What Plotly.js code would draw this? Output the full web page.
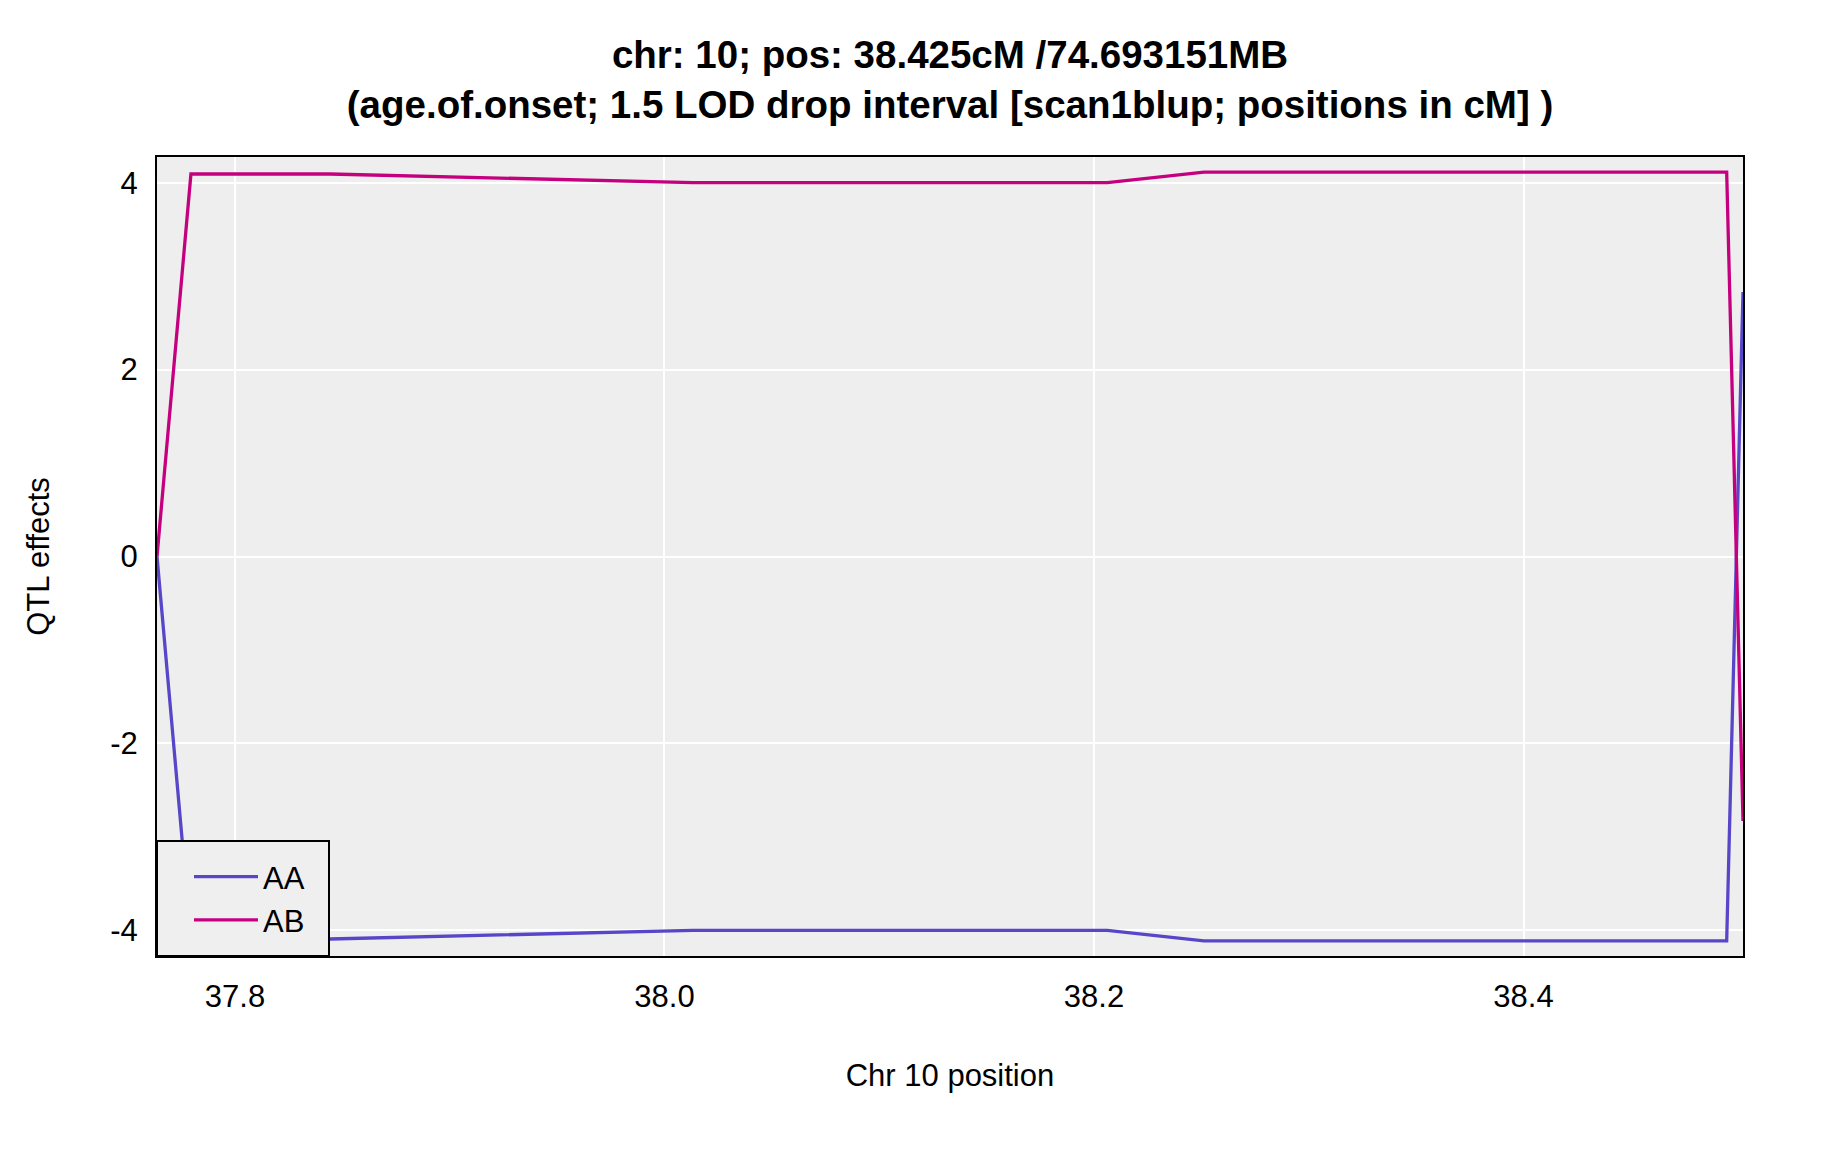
<!DOCTYPE html>
<html>
<head>
<meta charset="utf-8">
<script src="https://cdn.plot.ly/plotly-3.0.1.min.js"></script>
<style>html,body{margin:0;padding:0;background:#fff;}#chart{width:1824px;height:1152px;}</style>
</head>
<body>
<div id="chart"></div>
<script>
// Positions (cM) along chromosome 10
const positions = [37.7637, 37.7795, 37.8443, 38.0133, 38.2062, 38.2512, 38.4946, 38.5022];
// QTL effects
const effectAA = [0, -4.093, -4.093, -4.0, -4.0, -4.114, -4.114, 2.83];
const effectAB = [0, 4.093, 4.093, 4.0, 4.0, 4.114, 4.114, -2.83];
const seriesNames = ["AA", "AB"];
const xTicks = [37.8, 38.0, 38.2, 38.4];
const xTickLabels = ["37.8", "38.0", "38.2", "38.4"];
const yTicks = [-4, -2, 0, 2, 4];
const yTickLabels = ["-4", "-2", "0", "2", "4"];

const FONT = "Liberation Sans, Arial, Helvetica, sans-serif";

const traces = [
  {x: positions, y: effectAA, name: seriesNames[0], type: "scatter", mode: "lines",
   line: {color: "#5846c8", width: 3.3}, cliponaxis: true},
  {x: positions, y: effectAB, name: seriesNames[1], type: "scatter", mode: "lines",
   line: {color: "#c5007f", width: 3.3}, cliponaxis: true}
];

const layout = {
  width: 1824, height: 1152,
  margin: {l: 157, r: 81, t: 157, b: 196, pad: 0},
  paper_bgcolor: "#ffffff",
  plot_bgcolor: "#eeeeee",
  font: {family: FONT, size: 31, color: "#000"},
  title: {
    text: "chr: 10; pos: 38.425cM /74.693151MB<br>(age.of.onset; 1.5 LOD drop interval [scan1blup; positions in cM] )",
    font: {family: FONT, size: 38.5, color: "#000", weight: "bold"},
    x: 0.5, xanchor: "center", xref: "paper",
    y: 1 - 68/1152, yref: "container", yanchor: "middle"
  },
  xaxis: {
    range: [37.7637, 38.5022], autorange: false,
    tickvals: xTicks, ticktext: xTickLabels,
    ticks: "", showgrid: true, gridcolor: "#ffffff", gridwidth: 2,
    zeroline: false, showline: true, mirror: true, linecolor: "#000", linewidth: 2,
    tickfont: {size: 31, family: FONT}, ticklabelstandoff: 12,
    title: {text: "Chr 10 position", font: {size: 31, family: FONT}, standoff: 51}
  },
  yaxis: {
    range: [-4.275, 4.275], autorange: false,
    tickvals: yTicks, ticktext: yTickLabels,
    ticks: "", showgrid: true, gridcolor: "#ffffff", gridwidth: 2,
    zeroline: false, showline: true, mirror: true, linecolor: "#000", linewidth: 2,
    tickfont: {size: 31, family: FONT}, ticklabelstandoff: 11,
    title: {text: "QTL effects", font: {size: 31, family: FONT}, standoff: 51}
  },
  shapes: [
    {type: "rect", xref: "paper", yref: "paper", layer: "above",
     x0: 0, x1: 172/1586, y0: 0, y1: 115/799,
     fillcolor: "#efefef", line: {color: "#000", width: 2}}
  ],
  showlegend: true,
  legend: {
    x: 32/1586, y: 57.5/799, xanchor: "left", yanchor: "middle", xref: "paper", yref: "paper",
    bgcolor: "rgba(0,0,0,0)", borderwidth: 0,
    font: {size: 31, family: FONT}, tracegroupgap: 0, itemwidth: 64
  }
};

Plotly.newPlot("chart", traces, layout, {displayModeBar: false, staticPlot: true});
</script>
</body>
</html>
